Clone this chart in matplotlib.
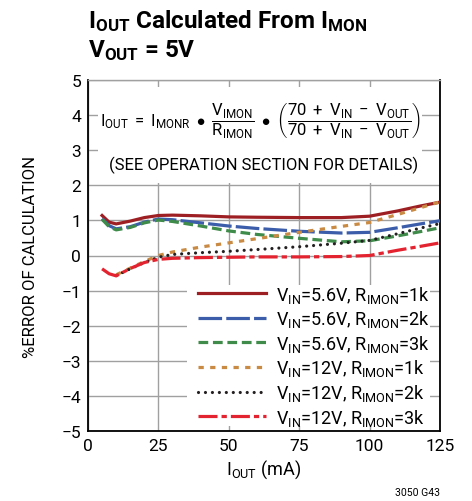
import matplotlib
matplotlib.use("Agg")
import matplotlib.pyplot as plt
from matplotlib.patches import Rectangle

plt.rcParams["font.family"] = ["Roboto", "DejaVu Sans"]
plt.rcParams["mathtext.fontset"] = "custom"
plt.rcParams["mathtext.rm"] = "Roboto"
plt.rcParams["mathtext.it"] = "Roboto"
plt.rcParams["mathtext.bf"] = "Roboto:bold"
plt.rcParams["lines.scale_dashes"] = False

# output current (mA) and % error for each test condition
x_a = [5, 7.5, 10, 15, 20, 25, 30, 40, 50, 60, 75, 90, 100, 110, 118, 125]
err_56v_1k = [1.14, 0.95, 0.90, 0.98, 1.08, 1.14, 1.15, 1.13, 1.10, 1.09, 1.08, 1.08, 1.12, 1.27, 1.41, 1.52]
err_56v_2k = [1.05, 0.85, 0.76, 0.82, 0.95, 1.04, 1.02, 0.93, 0.84, 0.77, 0.69, 0.64, 0.66, 0.79, 0.90, 0.99]
err_56v_3k = [1.03, 0.82, 0.73, 0.80, 0.93, 1.01, 0.97, 0.84, 0.70, 0.60, 0.49, 0.39, 0.42, 0.56, 0.68, 0.79]
x_b = [10, 15, 20, 25, 30, 40, 50, 60, 75, 90, 100, 110, 118, 125]
err_12v_1k = [-0.55, -0.36, -0.17, 0.00, 0.10, 0.24, 0.36, 0.48, 0.66, 0.83, 0.94, 1.17, 1.36, 1.53]
err_12v_2k = [-0.57, -0.38, -0.20, -0.05, 0.03, 0.08, 0.12, 0.17, 0.25, 0.35, 0.43, 0.62, 0.78, 0.91]
err_12v_3k = [-0.38, -0.52, -0.58, -0.37, -0.20, -0.11, -0.08, -0.06, -0.05, -0.04, -0.04, -0.03, 0.00, 0.15, 0.26, 0.36]

labels = [
    r"$\mathrm{V_{IN}}$=5.6V, $\mathrm{R_{IMON}}$=1k",
    r"$\mathrm{V_{IN}}$=5.6V, $\mathrm{R_{IMON}}$=2k",
    r"$\mathrm{V_{IN}}$=5.6V, $\mathrm{R_{IMON}}$=3k",
    r"$\mathrm{V_{IN}}$=12V, $\mathrm{R_{IMON}}$=1k",
    r"$\mathrm{V_{IN}}$=12V, $\mathrm{R_{IMON}}$=2k",
    r"$\mathrm{V_{IN}}$=12V, $\mathrm{R_{IMON}}$=3k",
]

fig = plt.figure(figsize=(4.72, 5.02), dpi=100)
ax = fig.add_axes([88 / 472, 1 - 432 / 502, 352 / 472, 351 / 502])

lw = 2.3
ax.plot(x_a, err_56v_1k, color="#9e1f23", lw=lw, label=labels[0], zorder=4)
ax.plot(x_a, err_56v_2k, color="#3b5daa", lw=lw, dashes=(17, 3), label=labels[1], zorder=4)
ax.plot(x_a, err_56v_3k, color="#3e8b4a", lw=lw, dashes=(7, 3.4), label=labels[2], zorder=4)
ax.plot(x_b, err_12v_1k, color="#c98a43", lw=lw, dashes=(3.8, 4.6), label=labels[3], zorder=4)
ax.plot(x_b, err_12v_2k, color="#231f20", lw=lw, dashes=(0.01, 5), dash_capstyle="round",
        label=labels[4], zorder=4)
ax.plot(x_a, err_12v_3k, color="#e3232f", lw=lw, dashes=(13.7, 2.9, 3.8, 2.9), label=labels[5], zorder=4)

ax.set_xlim(0, 125)
ax.set_ylim(-5, 5)
ax.set_xticks(range(0, 126, 25))
ax.set_yticks(range(-5, 6))
ax.tick_params(length=0, labelsize=12.5, pad=5)
ax.grid(True, color="#a0a0a0", lw=1.0, zorder=1)
for side in ["left", "bottom", "right"]:
    ax.spines[side].set_linewidth(1.3)
ax.spines["top"].set_color("#a0a0a0")
ax.spines["top"].set_linewidth(1.0)

# white panels behind the formula and the legend
ax.add_patch(Rectangle((3.5, 2.06), 115, 2.74, facecolor="white", edgecolor="none", zorder=2))
ax.add_patch(Rectangle((35, -4.85), 86.5, 4.0, facecolor="white", edgecolor="none", zorder=2))

ax.text(61, 3.88,
        r"$\mathrm{I_{OUT}\;=\;I_{MONR}}\;\bullet\;\dfrac{\mathrm{V_{IMON}}}{\mathrm{R_{IMON}}}\;\bullet\;"
        r"\left(\dfrac{\mathrm{70\;+\;V_{IN}\;-\;V_{OUT}}}{\mathrm{70\;+\;V_{IN}\;-\;V_{OUT}}}\right)$",
        ha="center", va="center", fontsize=12, zorder=3)
ax.text(62.5, 2.6, "(SEE OPERATION SECTION FOR DETAILS)", ha="center", va="center",
        fontsize=12, zorder=3)

ax.legend(loc="upper left", bbox_to_anchor=(39, -0.8), bbox_transform=ax.transData,
          frameon=False, fontsize=13, handlelength=3.8, handletextpad=0.55,
          labelspacing=0.2, borderaxespad=0, borderpad=0)

ax.set_xlabel(r"$\mathrm{I_{OUT}}$ (mA)", fontsize=13, labelpad=3)
ax.set_ylabel("%ERROR OF CALCULATION", fontsize=12, labelpad=17)

fig.text(88 / 472, 1 - 28 / 502, r"$\mathbf{I_{OUT}}$ Calculated From $\mathbf{I_{MON}}$",
         ha="left", va="baseline", fontsize=17.5, fontweight="bold")
fig.text(88 / 472, 1 - 57 / 502, r"$\mathbf{V_{OUT}}$ = 5V",
         ha="left", va="baseline", fontsize=17.5, fontweight="bold")
fig.text(440 / 472, 1 - 493 / 502, "3050 G43", ha="right", va="center", fontsize=7.5)

fig.savefig("out.png", dpi=100)
